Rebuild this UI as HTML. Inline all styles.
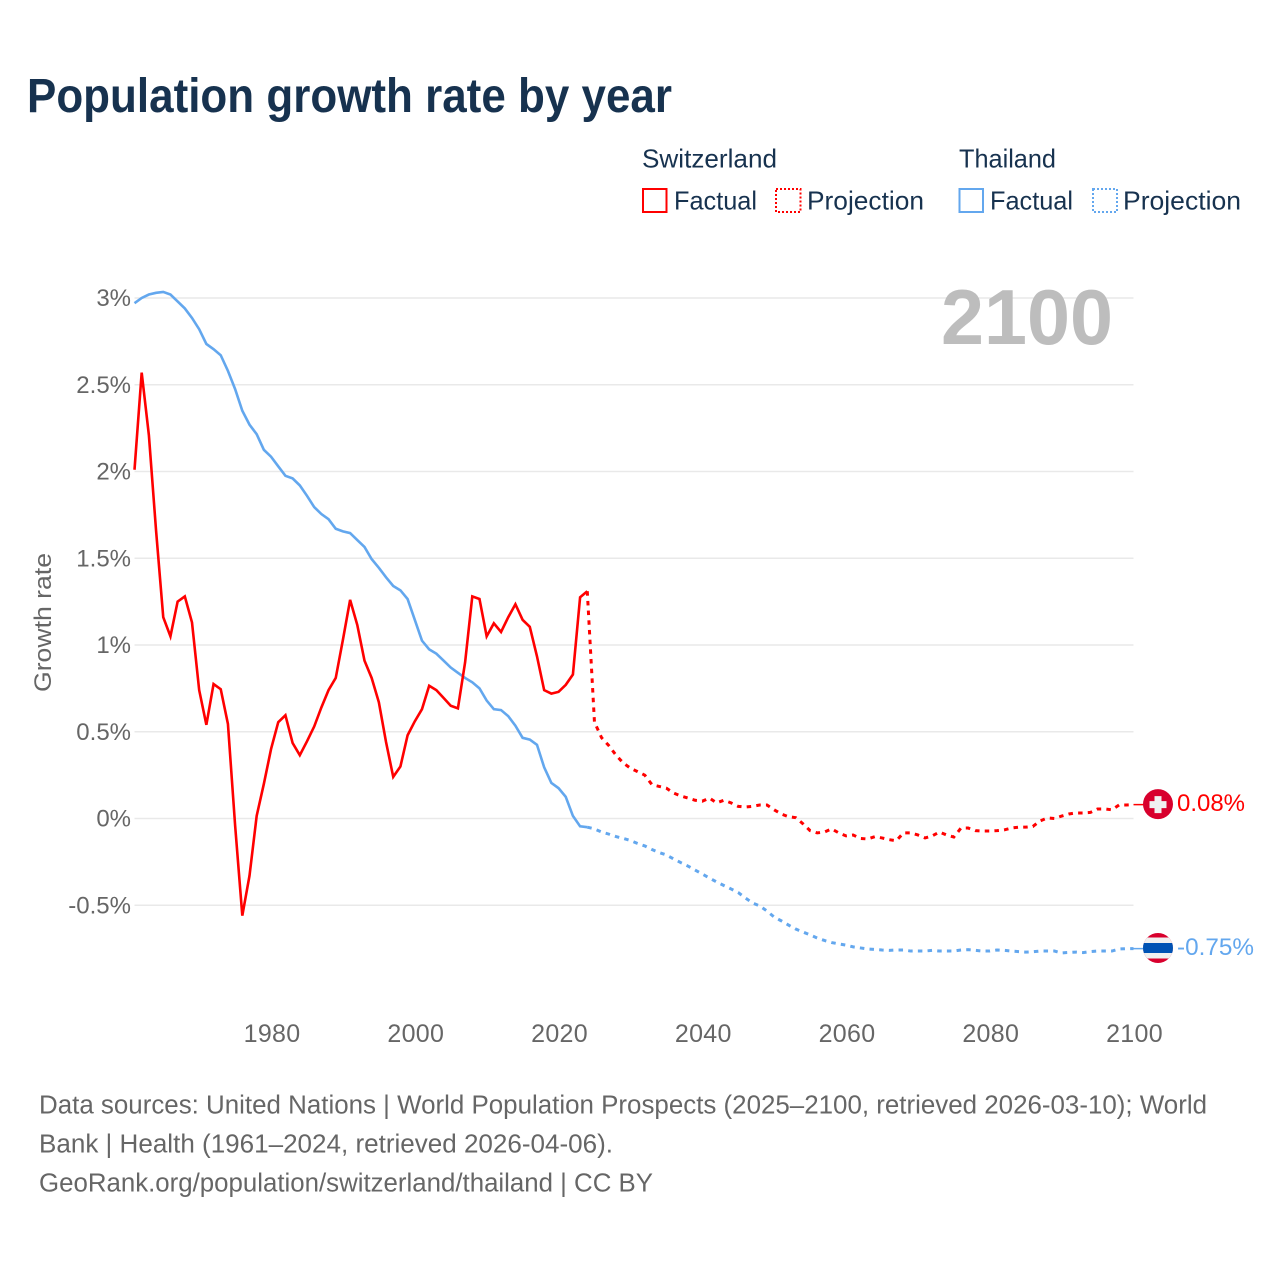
<!DOCTYPE html>
<html lang="en">
<head>
<meta charset="utf-8">
<title>Population growth rate by year</title>
<style>
html,body{margin:0;padding:0;background:#fff;}
svg{display:block;}
text{font-family:"Liberation Sans",sans-serif;}
</style>
</head>
<body>
<svg id="chart" width="1280" height="1280" viewBox="0 0 1280 1280" xmlns="http://www.w3.org/2000/svg">
  <defs>
    <clipPath id="flag-clip-th"><circle cx="1158" cy="948" r="15"/></clipPath>
  </defs>
  <rect x="0" y="0" width="1280" height="1280" fill="#ffffff"/>
  <text x="27" y="112" font-size="48" font-weight="700" fill="#17324f" textLength="645" lengthAdjust="spacingAndGlyphs">Population growth rate by year</text>

  <g font-size="26" fill="#17324f">
    <text x="642" y="167.5" textLength="135" lengthAdjust="spacingAndGlyphs">Switzerland</text>
    <rect x="643" y="189" width="23.5" height="23" fill="none" stroke="#ff0000" stroke-width="2"/>
    <text x="674" y="209.5" textLength="83" lengthAdjust="spacingAndGlyphs">Factual</text>
    <rect x="776" y="189" width="24.5" height="23" fill="none" stroke="#ff0000" stroke-width="2" stroke-dasharray="2 2"/>
    <text x="807" y="209.5" textLength="117" lengthAdjust="spacingAndGlyphs">Projection</text>
    <text x="959" y="167.5" textLength="97" lengthAdjust="spacingAndGlyphs">Thailand</text>
    <rect x="959.5" y="189" width="23.5" height="23" fill="none" stroke="#63a7ee" stroke-width="2"/>
    <text x="990" y="209.5" textLength="83" lengthAdjust="spacingAndGlyphs">Factual</text>
    <rect x="1093" y="189" width="24" height="23" fill="none" stroke="#63a7ee" stroke-width="2" stroke-dasharray="2 2"/>
    <text x="1123" y="209.5" textLength="118" lengthAdjust="spacingAndGlyphs">Projection</text>
  </g>

  <g id="grid"></g>
  <text x="941" y="344" font-size="78" font-weight="700" fill="#bdbdbd" textLength="172" lengthAdjust="spacingAndGlyphs">2100</text>
  <text transform="translate(51 692) rotate(-90)" x="0" y="0" font-size="24" fill="#666666" textLength="139" lengthAdjust="spacingAndGlyphs">Growth rate</text>
  <g id="y-ticks"></g>
  <g id="x-ticks"></g>
  <g id="series"></g>
  <g id="end-markers"></g>

  <g font-size="25.5" fill="#666666">
    <text x="39" y="1113.5" textLength="1168" lengthAdjust="spacingAndGlyphs">Data sources: United Nations | World Population Prospects (2025–2100, retrieved 2026-03-10); World</text>
    <text x="39" y="1152.5" textLength="574" lengthAdjust="spacingAndGlyphs">Bank | Health (1961–2024, retrieved 2026-04-06).</text>
    <text x="39" y="1191.5" textLength="614" lengthAdjust="spacingAndGlyphs">GeoRank.org/population/switzerland/thailand | CC BY</text>
  </g>
</svg>
<script>
const factualStartYear = 1961;
const yTickValues = [3, 2.5, 2, 1.5, 1, 0.5, 0, -0.5];
const yTickLabels = ["3%", "2.5%", "2%", "1.5%", "1%", "0.5%", "0%", "-0.5%"];
const xTickYears = [1980, 2000, 2020, 2040, 2060, 2080, 2100];

const switzerlandFactual = [
  2.01, 2.57, 2.21, 1.66, 1.16, 1.05, 1.25, 1.28, 1.13, 0.74,
  0.54, 0.775, 0.745, 0.545, -0.04, -0.56, -0.33, 0.015, 0.2, 0.4,
  0.555, 0.595, 0.435, 0.365, 0.445, 0.53, 0.64, 0.74, 0.81, 1.03,
  1.26, 1.115, 0.91, 0.81, 0.67, 0.44, 0.24, 0.30, 0.48, 0.56,
  0.63, 0.765, 0.74, 0.695, 0.65, 0.635, 0.90, 1.28, 1.265, 1.05,
  1.125, 1.075, 1.16, 1.235, 1.145, 1.105, 0.935, 0.74, 0.72, 0.73,
  0.77, 0.83, 1.275, 1.31
];
const switzerlandProjection = [
  0.555, 0.465, 0.42, 0.365, 0.32, 0.29, 0.27, 0.25, 0.195, 0.185,
  0.175, 0.147, 0.13, 0.118, 0.105, 0.10, 0.118, 0.09, 0.105, 0.09,
  0.07, 0.066, 0.07, 0.078, 0.078, 0.05, 0.026, 0.01, 0.005, -0.03,
  -0.07, -0.083, -0.078, -0.06, -0.083, -0.10, -0.095, -0.115, -0.118, -0.105,
  -0.112, -0.122, -0.128, -0.083, -0.083, -0.095, -0.112, -0.10, -0.078, -0.095,
  -0.107, -0.055, -0.055, -0.07, -0.072, -0.072, -0.07, -0.066, -0.055, -0.05,
  -0.05, -0.046, -0.014, 0.003, 0, 0.014, 0.026, 0.032, 0.032, 0.035,
  0.055, 0.055, 0.05, 0.078, 0.078, 0.08
];
const thailandFactual = [
  2.97, 3.0, 3.02, 3.03, 3.035, 3.02, 2.98, 2.94, 2.885, 2.82,
  2.735, 2.705, 2.67, 2.58, 2.475, 2.35, 2.27, 2.215, 2.125, 2.085,
  2.03, 1.975, 1.96, 1.92, 1.86, 1.795, 1.755, 1.725, 1.67, 1.655,
  1.645, 1.605, 1.565, 1.495, 1.445, 1.39, 1.34, 1.315, 1.265, 1.145,
  1.025, 0.975, 0.95, 0.91, 0.87, 0.84, 0.81, 0.785, 0.75, 0.68,
  0.63, 0.625, 0.59, 0.535, 0.465, 0.455, 0.425, 0.295, 0.205, 0.175,
  0.125, 0.015, -0.045, -0.05
];
const thailandProjection = [
  -0.06, -0.078, -0.09, -0.104, -0.115, -0.127, -0.144, -0.158, -0.179, -0.196,
  -0.21, -0.233, -0.254, -0.274, -0.297, -0.32, -0.343, -0.366, -0.386, -0.406,
  -0.427, -0.458, -0.487, -0.504, -0.533, -0.568, -0.59, -0.614, -0.637, -0.654,
  -0.671, -0.689, -0.703, -0.715, -0.723, -0.73, -0.74, -0.746, -0.752, -0.755,
  -0.758, -0.76, -0.758, -0.758, -0.764, -0.764, -0.764, -0.76, -0.764, -0.764,
  -0.764, -0.758, -0.756, -0.76, -0.764, -0.764, -0.758, -0.76, -0.764, -0.767,
  -0.77, -0.768, -0.764, -0.764, -0.764, -0.775, -0.772, -0.77, -0.773, -0.767,
  -0.764, -0.764, -0.764, -0.752, -0.75, -0.75
];
const endLabels = ["0.08%", "-0.75%"];

const NS = "http://www.w3.org/2000/svg";
const RED = "#ff0000";
const BLUE = "#63a7ee";
const GREY = "#666666";

function xScale(year) { return 134.5 + (year - 1961) * (999 / 139); }
function yScale(value) { return 818.5 - value * 173.5; }

function make(tag, parentId) {
  const el = document.createElementNS(NS, tag);
  document.getElementById(parentId).appendChild(el);
  return el;
}
function pathFrom(startYear, values) {
  return values.map(function (v, i) {
    return (i === 0 ? "M" : "L") + xScale(startYear + i).toFixed(2) + " " + yScale(v).toFixed(2);
  }).join(" ");
}

yTickValues.forEach(function (value, i) {
  const line = make("line", "grid");
  
  
  line.setAttribute("x1", xScale(1961));
  line.setAttribute("x2", xScale(2100));
  line.setAttribute("y1", yScale(value));
  line.setAttribute("y2", yScale(value));
  line.setAttribute("stroke", "#e9e9e9");
  line.setAttribute("stroke-width", "1.4");

  const label = make("text", "y-ticks");
  
  
  label.setAttribute("x", "131");
  label.setAttribute("y", yScale(value) + 8);
  label.setAttribute("text-anchor", "end");
  label.setAttribute("font-size", "24");
  label.setAttribute("fill", GREY);
  label.textContent = yTickLabels[i];
});

xTickYears.forEach(function (year) {
  const label = make("text", "x-ticks");
  
  
  label.setAttribute("x", xScale(year) + 1);
  label.setAttribute("y", "1042");
  label.setAttribute("text-anchor", "middle");
  label.setAttribute("font-size", "25");
  label.setAttribute("letter-spacing", "0.3");
  label.setAttribute("fill", GREY);
  label.textContent = String(year);
});

function drawSeries(factual, projection, color, factualName, projectionName) {
  const lastFactualYear = factualStartYear + factual.length - 1;
  const joined = [factual[factual.length - 1]].concat(projection);

  const dashed = make("path", "series");
  
  
  dashed.setAttribute("d", pathFrom(lastFactualYear, joined));
  dashed.setAttribute("fill", "none");
  dashed.setAttribute("stroke", color);
  dashed.setAttribute("stroke-width", "3");
  dashed.setAttribute("stroke-dasharray", "4.5 5.2");

  const solid = make("path", "series");
  
  
  solid.setAttribute("d", pathFrom(factualStartYear, factual));
  solid.setAttribute("fill", "none");
  solid.setAttribute("stroke", color);
  solid.setAttribute("stroke-width", "2.6");
  solid.setAttribute("stroke-linejoin", "miter");
}
drawSeries(thailandFactual, thailandProjection, BLUE, "thailand-factual-line", "thailand-projection-line");
drawSeries(switzerlandFactual, switzerlandProjection, RED, "switzerland-factual-line", "switzerland-projection-line");

function leader(value, color, name) {
  const line = make("line", "end-markers");
  
  
  line.setAttribute("x1", xScale(2100));
  line.setAttribute("x2", "1145");
  line.setAttribute("y1", yScale(value));
  line.setAttribute("y2", yScale(value));
  line.setAttribute("stroke", color);
  line.setAttribute("stroke-width", "1.5");
}
function endLabel(text, value, color, name, length) {
  const label = make("text", "end-markers");
  
  
  label.setAttribute("x", "1177");
  label.setAttribute("y", yScale(value) + 6.5);
  label.setAttribute("font-size", "24.5");
  label.setAttribute("fill", color);
  label.setAttribute("textLength", length);
  label.setAttribute("lengthAdjust", "spacingAndGlyphs");
  label.textContent = text;
}
const swissEnd = switzerlandProjection[switzerlandProjection.length - 1];
const thaiEnd = thailandProjection[thailandProjection.length - 1];
leader(swissEnd, RED, "switzerland-leader-line");
leader(thaiEnd, BLUE, "thailand-leader-line");
endLabel(endLabels[0], swissEnd, RED, "switzerland-end-value", 68);
endLabel(endLabels[1], thaiEnd, BLUE, "thailand-end-value", 77);

/* Switzerland flag badge */
const swissY = yScale(swissEnd) - 0.5;
const chDisc = make("circle", "end-markers");


chDisc.setAttribute("cx", "1158");
chDisc.setAttribute("cy", swissY);
chDisc.setAttribute("r", "15");
chDisc.setAttribute("fill", "#d8002d");
const chCrossV = make("rect", "end-markers");


chCrossV.setAttribute("x", "1154.5");
chCrossV.setAttribute("y", swissY - 8);
chCrossV.setAttribute("width", "7");
chCrossV.setAttribute("height", "17");
chCrossV.setAttribute("fill", "#f0f0f0");
const chCrossH = make("rect", "end-markers");


chCrossH.setAttribute("x", "1149.5");
chCrossH.setAttribute("y", swissY - 3);
chCrossH.setAttribute("width", "17");
chCrossH.setAttribute("height", "7");
chCrossH.setAttribute("fill", "#f0f0f0");

/* Thailand flag badge */
const thaiDisc = make("circle", "end-markers");


thaiDisc.setAttribute("cx", "1158");
thaiDisc.setAttribute("cy", "948");
thaiDisc.setAttribute("r", "15");
thaiDisc.setAttribute("fill", "#d8002d");
const thaiWhite = make("rect", "end-markers");


thaiWhite.setAttribute("x", "1143");
thaiWhite.setAttribute("y", "937.5");
thaiWhite.setAttribute("width", "30");
thaiWhite.setAttribute("height", "21");
thaiWhite.setAttribute("fill", "#f0f0f0");
thaiWhite.setAttribute("clip-path", "url(#flag-clip-th)");
const thaiBlue = make("rect", "end-markers");


thaiBlue.setAttribute("x", "1143");
thaiBlue.setAttribute("y", "943");
thaiBlue.setAttribute("width", "30");
thaiBlue.setAttribute("height", "10");
thaiBlue.setAttribute("fill", "#0052b4");
thaiBlue.setAttribute("clip-path", "url(#flag-clip-th)");
</script>
</body>
</html>
